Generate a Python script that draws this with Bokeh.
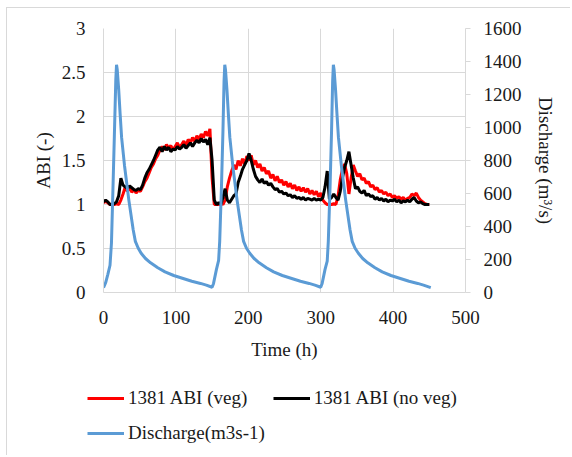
from bokeh.plotting import figure
from bokeh.layouts import column
from bokeh.models import Range1d, LinearAxis, FixedTicker, NumeralTickFormatter, Legend, LegendItem
from bokeh.embed import file_html
from bokeh.resources import INLINE

# ---------------- data ----------------
abi_hours = list(range(0, 451, 3))

abi_veg = [
    1.02, 1.04, 1.02, 1.00, 1.00, 1.00, 1.01, 1.00, 1.05, 1.12,
    1.20, 1.15, 1.19, 1.14, 1.17, 1.13, 1.16, 1.15, 1.20, 1.26,
    1.30, 1.36, 1.42, 1.46, 1.52, 1.56, 1.62, 1.66, 1.62, 1.68,
    1.64, 1.67, 1.62, 1.66, 1.70, 1.65, 1.68, 1.72, 1.67, 1.74,
    1.70, 1.76, 1.72, 1.78, 1.74, 1.80, 1.76, 1.83, 1.78, 1.86,
    1.30, 1.00, 1.00, 1.00, 1.02, 1.00, 1.05, 1.20, 1.30, 1.38,
    1.45, 1.40, 1.50, 1.44, 1.52, 1.46, 1.55, 1.50, 1.56, 1.45,
    1.50, 1.42, 1.46, 1.38, 1.42, 1.35, 1.38, 1.30, 1.34, 1.27,
    1.32, 1.25, 1.28, 1.22, 1.26, 1.20, 1.24, 1.18, 1.22, 1.16,
    1.20, 1.15, 1.19, 1.14, 1.18, 1.12, 1.16, 1.11, 1.15, 1.09,
    1.13, 1.05, 1.02, 1.00, 1.00, 1.00, 1.01, 1.00, 1.10, 1.28,
    1.40, 1.46, 1.35, 1.12, 1.30, 1.45, 1.38, 1.32, 1.35, 1.28,
    1.30, 1.24, 1.26, 1.20, 1.22, 1.17, 1.19, 1.14, 1.16, 1.12,
    1.14, 1.10, 1.12, 1.08, 1.10, 1.07, 1.09, 1.06, 1.08, 1.05,
    1.07, 1.08, 1.12, 1.10, 1.13, 1.08, 1.05, 1.03, 1.01, 1.00,
    1.00,
]

abi_noveg = [
    1.03, 1.05, 1.03, 1.00, 1.00, 1.01, 1.03, 1.10, 1.30, 1.22,
    1.20, 1.18, 1.21, 1.19, 1.17, 1.16, 1.18, 1.17, 1.22, 1.30,
    1.36, 1.40, 1.45, 1.50, 1.56, 1.62, 1.65, 1.60, 1.66, 1.62,
    1.65, 1.60, 1.63, 1.62, 1.66, 1.63, 1.65, 1.68, 1.64, 1.67,
    1.70, 1.66, 1.70, 1.73, 1.70, 1.75, 1.71, 1.74, 1.68, 1.76,
    1.50, 1.05, 1.00, 1.02, 1.00, 1.08, 1.18, 1.05, 1.02, 1.06,
    1.10, 1.12, 1.25, 1.32, 1.40, 1.45, 1.50, 1.58, 1.50, 1.40,
    1.32, 1.28, 1.25, 1.29, 1.24, 1.26, 1.22, 1.24, 1.20, 1.17,
    1.18, 1.14, 1.15, 1.12, 1.13, 1.10, 1.11, 1.08, 1.10, 1.07,
    1.08, 1.06, 1.08, 1.05, 1.07, 1.06, 1.05, 1.07, 1.05, 1.06,
    1.05, 1.08, 1.20, 1.38, 1.06, 1.08, 1.12, 1.08, 1.05, 1.15,
    1.30, 1.42, 1.50, 1.60, 1.45, 1.30, 1.18, 1.20, 1.15, 1.13,
    1.16, 1.10, 1.12, 1.09, 1.10, 1.06, 1.08, 1.05, 1.07, 1.04,
    1.06, 1.03, 1.05, 1.04, 1.06, 1.03, 1.05, 1.02, 1.04, 1.03,
    1.05, 1.03, 1.06, 1.08, 1.04, 1.02, 1.03, 1.01, 1.00, 1.00,
    1.00,
]

q_hours = [
    0, 3, 6, 9, 11, 13, 15, 17, 18, 19, 21, 23, 25, 29, 35, 41, 44, 48, 52, 58,
    65, 75, 85, 97, 110, 122, 134, 142, 150,
    152, 156, 159, 160.5, 163, 165, 166.5, 167.5, 168.5, 170.5, 172.5, 174.5, 178.5,
    184.5, 190.5, 193.5, 197.5, 202, 208, 215, 225, 235, 247, 260, 272, 284, 292, 300,
    302, 306, 309, 310.5, 313, 315, 316.5, 317.5, 318.5, 320.5, 322.5, 324.5, 328.5,
    334.5, 340.5, 343.5, 347.5, 352, 358, 365, 375, 385, 397, 410, 422, 434, 442, 452,
]
discharge = [
    30, 60, 110, 165, 300, 620, 950, 1290, 1380, 1350, 1230, 1080, 940, 770, 560, 380, 310, 268, 238, 206,
    180, 150, 125, 103, 85, 68, 55, 45, 32,
    55, 140, 195, 310, 650, 980, 1280, 1380, 1350, 1230, 1080, 940, 770,
    560, 380, 310, 268, 238, 206, 180, 150, 125, 103, 85, 68, 55, 45, 32,
    55, 140, 190, 310, 650, 980, 1280, 1380, 1350, 1230, 1080, 940, 770,
    560, 380, 310, 268, 238, 206, 180, 150, 125, 103, 85, 68, 55, 45, 30,
]

series_labels = ["1381 ABI (veg)", "1381 ABI (no veg)", "Discharge(m3s-1)"]
series_colors = ["#ff0000", "#000000", "#5b9bd5"]

x_ticks = [0, 100, 200, 300, 400, 500]
abi_ticks = [0, 0.5, 1, 1.5, 2, 2.5, 3]
q_ticks = [0, 200, 400, 600, 800, 1000, 1200, 1400, 1600]

# ---------------- styling ----------------
FONT = "Liberation Serif"
TXT = "#1a1a1a"
GRID = "#d9d9d9"

p = figure(
    frame_width=362, frame_height=264,
    min_border_left=103, min_border_right=105, min_border_top=28, min_border_bottom=88,
    x_range=Range1d(0, 500), y_range=Range1d(0, 3),
    output_backend="svg", toolbar_location=None,
)
p.frame_align = False
p.outline_line_color = None
p.background_fill_color = "white"
p.border_fill_alpha = 0
p.styles = {
    "background": (
        "linear-gradient(#d9d9d9, #d9d9d9) 6px 7px / 1px 100% no-repeat, "
        "linear-gradient(#d9d9d9, #d9d9d9) 6px 7px / 100% 1px no-repeat, white"
    )
}

p.extra_y_ranges = {"q": Range1d(0, 1600)}

# x axis
xa = p.xaxis[0]
xa.ticker = FixedTicker(ticks=x_ticks)
xa.axis_label = "Time (h)"
xa.axis_line_color = GRID
xa.major_tick_line_color = None
xa.minor_tick_line_color = None
xa.major_tick_out = 0
xa.major_tick_in = 0
xa.major_label_standoff = 18
xa.axis_label_standoff = 12

# left axis
ya = p.yaxis[0]
ya.ticker = FixedTicker(ticks=abi_ticks)
ya.formatter = NumeralTickFormatter(format="0.[0]")
ya.axis_label = "ABI (-)"
ya.axis_line_color = GRID
ya.major_tick_line_color = None
ya.minor_tick_line_color = None
ya.major_tick_out = 0
ya.major_tick_in = 0
ya.major_label_standoff = 18
ya.axis_label_standoff = 5

# right axis
ra = LinearAxis(y_range_name="q", ticker=FixedTicker(ticks=q_ticks), axis_label="Discharge (m³/s)")
ra.axis_line_color = GRID
ra.major_tick_line_color = GRID
ra.minor_tick_line_color = None
ra.major_tick_out = 5
ra.major_tick_in = 0
ra.major_label_standoff = 13
ra.axis_label_standoff = 10
p.add_layout(ra, "right")

for ax in (xa, ya, ra):
    ax.major_label_text_font = FONT
    ax.major_label_text_font_size = "19px"
    ax.major_label_text_color = TXT
    ax.axis_label_text_font = FONT
    ax.axis_label_text_font_size = "19px"
    ax.axis_label_text_font_style = "normal"
    ax.axis_label_text_color = TXT

p.xgrid.grid_line_color = GRID
p.ygrid.grid_line_color = GRID
p.xgrid.ticker = FixedTicker(ticks=x_ticks)
p.ygrid.ticker = FixedTicker(ticks=abi_ticks)

p.line(abi_hours, abi_veg, line_color=series_colors[0], line_width=3)
p.line(abi_hours, abi_noveg, line_color=series_colors[1], line_width=3)
p.line(q_hours, discharge, line_color=series_colors[2], line_width=3, y_range_name="q")

# ---------------- legend strip (its own figure, data kept out of view) ----------------
lg = figure(
    width=570, height=75, min_border=0, min_border_left=0, min_border_right=0,
    min_border_top=0, min_border_bottom=0,
    x_range=Range1d(0, 1), y_range=Range1d(-10, -9),
    x_axis_type=None, y_axis_type=None,
    output_backend="svg", toolbar_location=None,
)
lg.frame_align = False
lg.outline_line_color = None
lg.grid.visible = False
lg.background_fill_alpha = 0
lg.border_fill_alpha = 0
lg.styles = {
    "background": "linear-gradient(#d9d9d9, #d9d9d9) 6px 0px / 1px 100% no-repeat, white"
}
px_veg = lg.line(abi_hours, abi_veg, line_color=series_colors[0], line_width=3)
px_noveg = lg.line(abi_hours, abi_noveg, line_color=series_colors[1], line_width=3)
px_q = lg.line(q_hours, discharge, line_color=series_colors[2], line_width=3)

# column-major filling: col 1 = veg, discharge ; col 2 = no veg
legend = Legend(
    items=[LegendItem(label=series_labels[0], renderers=[px_veg]),
           LegendItem(label=series_labels[2], renderers=[px_q]),
           LegendItem(label=series_labels[1], renderers=[px_noveg])],
    ncols=2, spacing=8, location=(87, 9),
    label_text_font=FONT, label_text_font_size="19px", label_text_color=TXT,
    glyph_width=37, glyph_height=20, label_height=27, label_standoff=4,
    padding=0, margin=0, border_line_alpha=0, background_fill_alpha=0,
)
lg.add_layout(legend)

layout = column(p, lg, spacing=0)
open("out.html", "w").write(file_html(layout, INLINE))
